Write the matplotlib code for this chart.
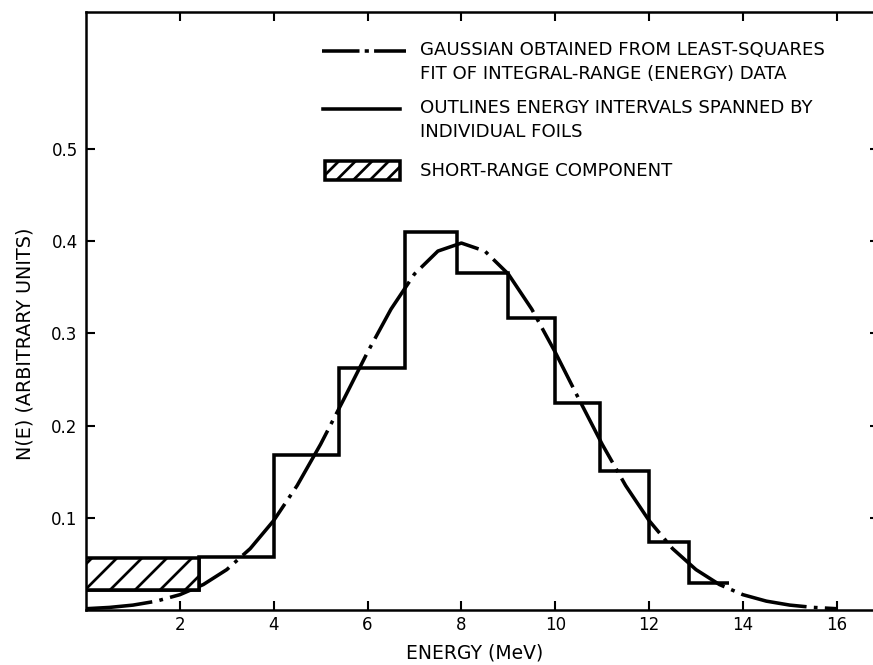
import matplotlib
matplotlib.use("Agg")
import matplotlib.pyplot as plt
from matplotlib.patches import Rectangle
from matplotlib.lines import Line2D

# ---------------- data ----------------
# foil energy intervals (MeV) and histogram heights
bin_edges = [0.0, 2.4, 4.0, 5.4, 6.8, 7.9, 9.0, 10.0, 10.95, 12.0, 12.85, 13.7]
bin_values = [0.022, 0.058, 0.168, 0.262, 0.410, 0.366, 0.317, 0.224, 0.151, 0.074, 0.029]

# short-range component (stacked on the first interval)
short_left = [0.0]
short_width = [2.4]
short_bottom = [0.022]
short_height = [0.034]

# Gaussian fit curve, read at 0.5 MeV steps
gauss_E = [0.0, 0.5, 1.0, 1.5, 2.0, 2.5, 3.0, 3.5, 4.0, 4.5, 5.0, 5.5, 6.0, 6.5,
           7.0, 7.5, 8.0, 8.5, 9.0, 9.5, 10.0, 10.5, 11.0, 11.5, 12.0, 12.5,
           13.0, 13.5, 14.0, 14.5, 15.0, 15.5, 16.0]
gauss_N = [0.0014, 0.0028, 0.0053, 0.0096, 0.0166, 0.0276, 0.0438, 0.0666,
           0.0970, 0.1350, 0.1798, 0.2292, 0.2796, 0.3263, 0.3644, 0.3893,
           0.3980, 0.3893, 0.3644, 0.3263, 0.2796, 0.2292, 0.1798, 0.1350,
           0.0970, 0.0666, 0.0438, 0.0276, 0.0166, 0.0096, 0.0053, 0.0028,
           0.0014]

x_ticks = [2, 4, 6, 8, 10, 12, 14, 16]
x_ticklabels = ["2", "4", "6", "8", "10", "12", "14", "16"]
y_ticks = [0.1, 0.2, 0.3, 0.4, 0.5]
y_ticklabels = ["0.1", "0.2", "0.3", "0.4", "0.5"]

legend_texts = [
    "GAUSSIAN OBTAINED FROM LEAST-SQUARES\nFIT OF INTEGRAL-RANGE (ENERGY) DATA",
    "OUTLINES ENERGY INTERVALS SPANNED BY\nINDIVIDUAL FOILS",
    "SHORT-RANGE COMPONENT",
]
xlabel = "ENERGY (MeV)"
ylabel = "N(E) (ARBITRARY UNITS)"

# ---------------- style ----------------
plt.rcParams["font.family"] = ["DejaVu Sans"]
plt.rcParams["lines.scale_dashes"] = False
plt.rcParams["hatch.linewidth"] = 1.3

W, H, DPI = 873, 665, 150
fig = plt.figure(figsize=(W / DPI, H / DPI), dpi=DPI)
ax = fig.add_axes([86 / W, 55 / H, 793 / W, 598 / H])

ax.set_xlim(0, 16.9)
ax.set_ylim(0, 0.6486)

lw = 1.7
# histogram outline
ax.stairs(bin_values, bin_edges, baseline=None, color="black", linewidth=lw)
# short range component
ax.bar(short_left, short_height, width=short_width, bottom=short_bottom,
       align="edge", facecolor="white", edgecolor="black", linewidth=lw,
       hatch="//", zorder=3)
# gaussian
ax.plot(gauss_E, gauss_N, color="black", linewidth=lw,
        linestyle=(0, (32, 3.5, 1.8, 3.5)), solid_capstyle="butt")

# ticks / spines
for s in ax.spines.values():
    s.set_linewidth(1.2)
ax.set_xticks(x_ticks)
ax.set_xticklabels(x_ticklabels)
ax.set_yticks(y_ticks)
ax.set_yticklabels(y_ticklabels)
ax.tick_params(direction="in", top=True, right=True, length=4.5, width=1.0,
               labelsize=8)
ax.tick_params(axis="x", pad=3)
ax.tick_params(axis="y", pad=4)

ax.set_xlabel(xlabel, fontsize=9)
ax.xaxis.set_label_coords((475 - 86) / 793, (610 - 653) / 598)
ax.xaxis.label.set_verticalalignment("center")
ax.set_ylabel(ylabel, fontsize=9.2)
ax.yaxis.set_label_coords((25 - 86) / 793, (610 - 344) / 598)
ax.yaxis.label.set_verticalalignment("center")

# ---------------- legend (manual) ----------------
def axx(px):
    return (px - 86) / 793.0

def axy(py):
    return (610 - py) / 598.0

tr = ax.transAxes
ax.add_line(Line2D([axx(322), axx(406)], [axy(51), axy(51)], transform=tr,
                   color="black", linewidth=lw,
                   linestyle=(0, (18, 2.5, 2, 2.5))))
ax.add_line(Line2D([axx(323), axx(400)], [axy(109), axy(109)], transform=tr,
                   color="black", linewidth=lw))
ax.add_patch(Rectangle((axx(325), axy(180)), axx(400) - axx(325),
                       axy(161) - axy(180), transform=tr, facecolor="white",
                       edgecolor="black", linewidth=lw, hatch="///"))

txt_kw = dict(transform=tr, fontsize=8.7, ha="left", va="center",
              linespacing=1.45)
ax.text(axx(420), axy(62), legend_texts[0], **txt_kw)
ax.text(axx(420), axy(120), legend_texts[1], **txt_kw)
ax.text(axx(420), axy(170.5), legend_texts[2], **txt_kw)

fig.savefig("out.png", dpi=DPI)
